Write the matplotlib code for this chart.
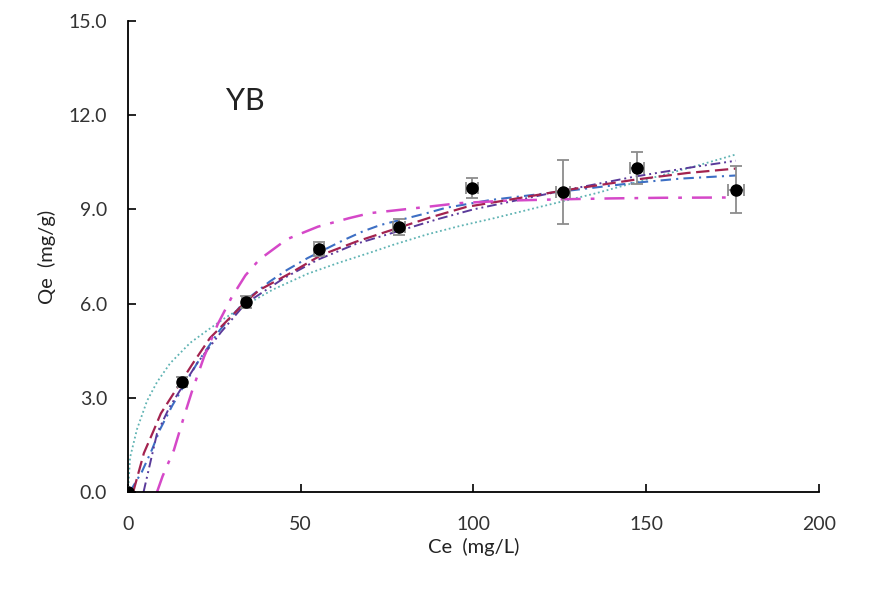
import matplotlib
matplotlib.use("Agg")
import matplotlib.pyplot as plt

# experimental points
ce = [0, 15.6, 34.2, 55.3, 78.4, 99.6, 125.9, 147.3, 176.0]
qe = [0, 3.50, 6.05, 7.74, 8.44, 9.68, 9.55, 10.32, 9.62]
qe_err = [0, 0.15, 0.2, 0.22, 0.25, 0.32, 1.03, 0.5, 0.75]
ce_err = [0, 1.0, 1.2, 1.5, 1.8, 1.8, 2.0, 2.0, 2.3]

# fitted model curves
teal_x = [0, 0.6, 2.6, 5.5, 8.4, 12.2, 18, 23, 27.5, 34, 42, 52, 61, 70, 77, 86.5, 96, 106, 120, 135, 150, 165, 176]
teal_y = [0, 1.1, 2.0, 2.9, 3.5, 4.1, 4.75, 5.15, 5.5, 5.95, 6.45, 6.95, 7.3, 7.62, 7.88, 8.2, 8.47, 8.72, 9.1, 9.5, 9.95, 10.4, 10.75]

blue_x = [0.5, 4.0, 6.9, 9.3, 12.8, 20, 26.6, 34, 41, 46, 52, 62, 68, 73, 86.5, 92, 105, 124, 147, 160, 176]
blue_y = [0, 0.64, 1.34, 2.0, 2.75, 4.1, 5.16, 6.1, 6.7, 7.07, 7.45, 8.0, 8.3, 8.5, 8.88, 9.05, 9.3, 9.55, 9.85, 9.98, 10.08]

red_x = [1.5, 4.6, 7.2, 9.5, 15, 18.8, 23.7, 34, 38, 47, 56, 66, 79, 88, 98, 110, 126, 147, 162, 176]
red_y = [0, 1.24, 1.9, 2.5, 3.45, 4.1, 4.9, 6.05, 6.43, 6.97, 7.55, 7.97, 8.44, 8.76, 9.08, 9.3, 9.6, 9.95, 10.16, 10.3]

purple_x = [4.5, 8.4, 12, 16, 20, 27, 34, 45, 55, 66, 78, 90, 100, 113, 126, 147, 162, 176]
purple_y = [0, 1.87, 2.7, 3.4, 4.1, 5.1, 6.0, 6.8, 7.4, 7.9, 8.3, 8.7, 9.0, 9.3, 9.6, 10.05, 10.32, 10.55]

mag_x = [8.4, 10, 13.3, 16.2, 18.5, 22, 26, 30, 34, 38, 46, 55, 64, 70, 86.5, 96, 110, 125, 140, 155, 176]
mag_y = [0, 0.5, 1.34, 2.4, 3.2, 4.3, 5.35, 6.2, 6.9, 7.4, 8.05, 8.45, 8.72, 8.88, 9.08, 9.2, 9.28, 9.32, 9.35, 9.37, 9.38]

plt.rcParams['font.family'] = ['Lato', 'DejaVu Sans']

fig = plt.figure(figsize=(8.72, 5.91), dpi=100)
ax = fig.add_axes([0.1468, 0.1675, 0.7922, 0.797])

ax.plot(teal_x, teal_y, color='#5fb3b3', lw=1.3, linestyle=(0, (1, 1.5)))
ax.plot(blue_x, blue_y, color='#3d6fc4', lw=1.5, linestyle=(0, (5, 2.5, 1, 2.5)))
ax.plot(purple_x, purple_y, color='#5a3a9a', lw=1.4, linestyle=(0, (5, 2, 1, 2, 1, 2)))
ax.plot(red_x, red_y, color='#a3234f', lw=1.6, linestyle=(0, (6, 2.5)))
ax.plot(mag_x, mag_y, color='#d548c8', lw=1.8, linestyle=(0, (8, 4, 1.5, 4)))

ax.errorbar(ce, qe, yerr=qe_err, xerr=ce_err, fmt='o', color='black', ms=8,
            ecolor='#8c8c8c', elinewidth=1.3, capsize=4.3, capthick=1.3, zorder=5)

ax.text(33.9, 12.45, 'YB', fontsize=22, ha='center', va='center', color='#222222')

ax.set_xlim(0, 200)
ax.set_ylim(0, 15)
ax.set_xticks([0, 50, 100, 150, 200])
ax.set_yticks([0, 3, 6, 9, 12, 15])
ax.set_yticklabels(['0.0', '3.0', '6.0', '9.0', '12.0', '15.0'])
ax.tick_params(direction='in', length=6, width=1.2, labelsize=14, labelcolor='#333333')
ax.tick_params(axis='x', pad=17)
ax.tick_params(axis='y', pad=15)
for s in ['top', 'right']:
    ax.spines[s].set_visible(False)
for s in ['left', 'bottom']:
    ax.spines[s].set_linewidth(1.3)

ax.set_xlabel('Ce  (mg/L)', fontsize=14.5, color='#222222', labelpad=4)
ax.set_ylabel('Qe  (mg/g)', fontsize=14.5, color='#222222', labelpad=9)

fig.savefig('out.png', dpi=100)
